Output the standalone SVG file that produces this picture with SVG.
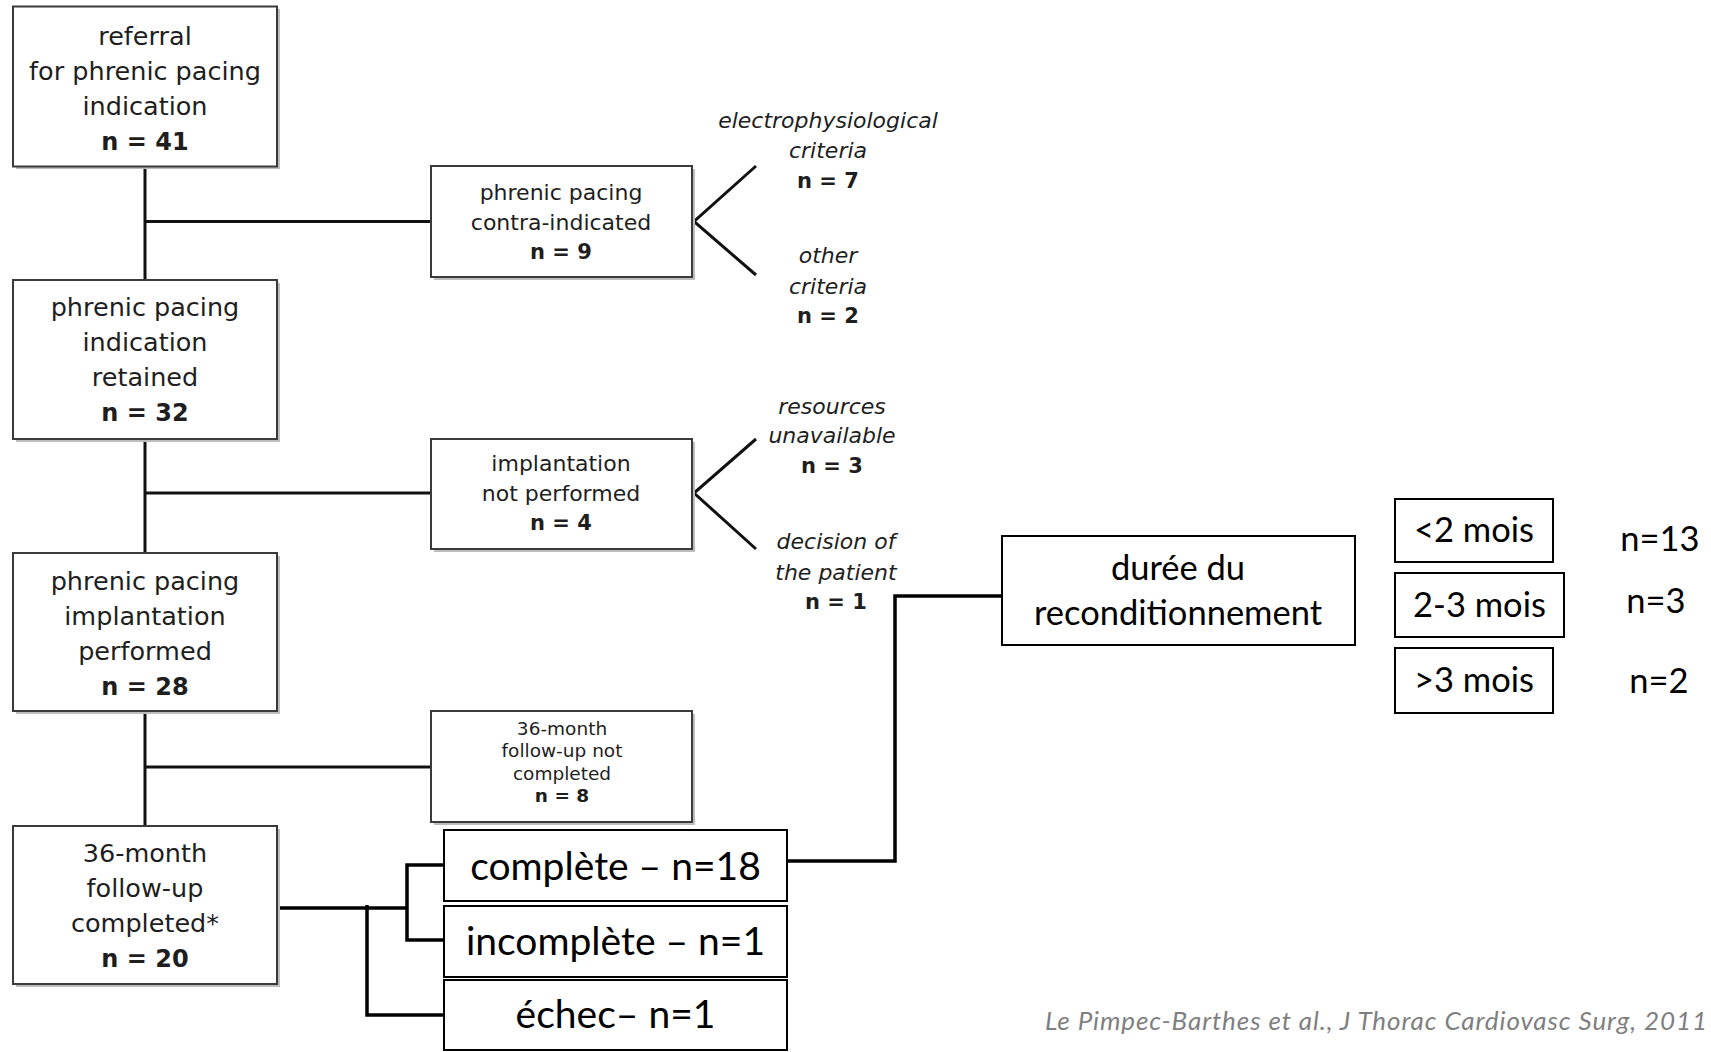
<svg xmlns="http://www.w3.org/2000/svg" width="1711" height="1052" viewBox="0 0 1711 1052">
<style>
.bx{fill:#fff;stroke:#3a3a3a;stroke-width:2}
.sh{fill:#bdbdbd}
.fb{fill:#fff;stroke:#000;stroke-width:2}
.t{font-family:"DejaVu Sans",sans-serif;fill:#1e1e1e;text-anchor:middle}
.L{font-size:25.5px}
.M{font-size:22px}
.S{font-size:18.5px}
.b{font-weight:bold}
.i{font-style:italic}
.f{font-family:Lato,"Open Sans",sans-serif;fill:#000;text-anchor:middle}
.ln{stroke:#111;stroke-width:3;fill:none}
.lk{stroke:#000;stroke-width:3.5;fill:none}
.cit{font-family:Lato,"Open Sans",sans-serif;font-style:italic;font-size:26px;fill:#7f7f7f}
</style>
<rect width="1711" height="1052" fill="#fff"/>
<g id="connectors">
<line class="ln" x1="145" y1="166" x2="145" y2="826"/>
<line class="ln" x1="145" y1="221.5" x2="431" y2="221.5"/>
<line class="ln" x1="145" y1="493" x2="431" y2="493"/>
<line class="ln" x1="145" y1="767" x2="431" y2="767"/>
<polyline class="ln" points="756,166 694,221.5 756,275"/>
<polyline class="ln" points="756,439 694,493 756,549"/>
<line class="lk" x1="278" y1="908" x2="407" y2="908"/>
<polyline class="lk" points="444,865 407,865 407,940 444,940"/>
<polyline class="lk" points="367,905 367,1015 444,1015"/>
<polyline class="lk" points="787,861 895,861 895,596 1002,596"/>
</g>
<g id="n1"><rect class="sh" x="16" y="9" width="264" height="160"/><rect class="bx" x="13" y="6.5" width="264" height="160"/>
<text class="t L" x="145" y="45">referral</text><text class="t L" x="145" y="80">for phrenic pacing</text><text class="t L" x="145" y="115">indication</text><text class="t L b" x="145" y="150" style="font-size:24px">n = 41</text></g>
<g id="n2"><rect class="sh" x="16" y="283" width="264" height="159"/><rect class="bx" x="13" y="280" width="264" height="159"/>
<text class="t L" x="145" y="316">phrenic pacing</text><text class="t L" x="145" y="351">indication</text><text class="t L" x="145" y="386">retained</text><text class="t L b" x="145" y="421" style="font-size:24px">n = 32</text></g>
<g id="n3"><rect class="sh" x="16" y="556" width="264" height="158"/><rect class="bx" x="13" y="553" width="264" height="158"/>
<text class="t L" x="145" y="590">phrenic pacing</text><text class="t L" x="145" y="625">implantation</text><text class="t L" x="145" y="660">performed</text><text class="t L b" x="145" y="695" style="font-size:24px">n = 28</text></g>
<g id="n4"><rect class="sh" x="16" y="829" width="264" height="158"/><rect class="bx" x="13" y="826" width="264" height="158"/>
<text class="t L" x="145" y="862">36-month</text><text class="t L" x="145" y="897">follow-up</text><text class="t L" x="145" y="932">completed*</text><text class="t L b" x="145" y="967" style="font-size:24px">n = 20</text></g>
<g id="nA"><rect class="sh" x="434" y="169" width="261" height="111"/><rect class="bx" x="431" y="166" width="261" height="111"/>
<text class="t M" x="561" y="200">phrenic pacing</text><text class="t M" x="561" y="230">contra-indicated</text><text class="t M b" x="561" y="259" style="font-size:21px">n = 9</text></g>
<g id="nB"><rect class="sh" x="434" y="442" width="261" height="110"/><rect class="bx" x="431" y="439" width="261" height="110"/>
<text class="t M" x="561" y="471">implantation</text><text class="t M" x="561" y="501">not performed</text><text class="t M b" x="561" y="530" style="font-size:21px">n = 4</text></g>
<g id="nC"><rect class="sh" x="434" y="714" width="261" height="111"/><rect class="bx" x="431" y="711" width="261" height="111"/>
<text class="t S" x="562" y="735">36-month</text><text class="t S" x="562" y="757">follow-up not</text><text class="t S" x="562" y="780">completed</text><text class="t S b" x="562" y="802">n = 8</text></g>
<g id="lA1"><text class="t M i" x="828" y="128">electrophysiological</text><text class="t M i" x="828" y="158">criteria</text><text class="t M b" x="828" y="188" style="font-size:21px">n = 7</text></g>
<g id="lA2"><text class="t M i" x="828" y="263">other</text><text class="t M i" x="828" y="294">criteria</text><text class="t M b" x="828" y="323" style="font-size:21px">n = 2</text></g>
<g id="lB1"><text class="t M i" x="832" y="414">resources</text><text class="t M i" x="832" y="443">unavailable</text><text class="t M b" x="832" y="473" style="font-size:21px">n = 3</text></g>
<g id="lB2"><text class="t M i" x="836" y="549">decision of</text><text class="t M i" x="836" y="580">the patient</text><text class="t M b" x="836" y="609" style="font-size:21px">n = 1</text></g>
<g id="f1"><rect class="fb" x="444" y="830" width="343" height="71"/><text class="f" x="615.5" y="880" font-size="39">complète – n=18</text></g>
<g id="f2"><rect class="fb" x="444" y="906" width="343" height="71"/><text class="f" x="615.5" y="955" font-size="39">incomplète – n=1</text></g>
<g id="f3"><rect class="fb" x="444" y="980" width="343" height="70"/><text class="f" x="615.5" y="1028" font-size="39">échec– n=1</text></g>
<g id="duree"><rect class="fb" x="1002" y="536" width="353" height="109"/><text class="f" x="1178" y="580" font-size="34.5">durée du</text><text class="f" x="1178" y="625" font-size="34.5">reconditionnement</text></g>
<g id="m1"><rect class="fb" x="1395" y="499" width="158" height="63"/><text class="f" x="1474" y="542" font-size="34.5">&lt;2 mois</text></g>
<g id="m2"><rect class="fb" x="1395" y="573" width="169" height="64"/><text class="f" x="1479.5" y="617" font-size="34.5">2-3 mois</text></g>
<g id="m3"><rect class="fb" x="1395" y="648" width="158" height="65"/><text class="f" x="1474" y="692" font-size="34.5">&gt;3 mois</text></g>
<g id="counts"><text class="f" x="1660" y="551" font-size="34.5">n=13</text><text class="f" x="1656" y="613" font-size="34.5">n=3</text><text class="f" x="1659" y="693" font-size="34.5">n=2</text></g>
<text class="cit" x="1045" y="1030" textLength="662" lengthAdjust="spacing">Le Pimpec-Barthes et al., J Thorac Cardiovasc Surg, 2011</text>
</svg>
